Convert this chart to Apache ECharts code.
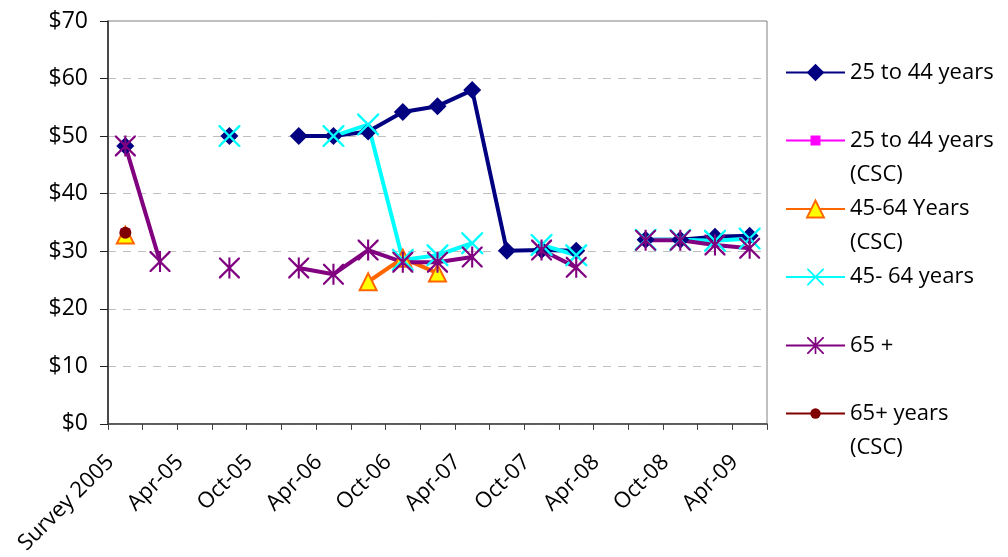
<!DOCTYPE html>
<html>
<head>
<meta charset="utf-8">
<script src="https://cdn.jsdelivr.net/npm/echarts@6/dist/echarts.min.js"></script>
<style>html,body{margin:0;padding:0;background:#fff}#c{width:1008px;height:557px}</style>
</head>
<body>
<div id="c"></div>
<script>
const categories = ['Survey 2005','Jan-05','Apr-05','Jul-05','Oct-05','Jan-06','Apr-06','Jul-06','Oct-06','Jan-07','Apr-07','Jul-07','Oct-07','Jan-08','Apr-08','Jul-08','Oct-08','Jan-09','Apr-09'];
const yTicks = [0, 10, 20, 30, 40, 50, 60, 70];
const age25to44 = [48.3, null, null, 50, null, 50, 50, 50.8, 54.2, 55.2, 58, 30.1, 30.2, 30.1, null, 32, 32, 32.5, 32.7];
const age25to44CSC = [33.1, null, null, null, null, null, null, null, null, null, null, null, null, null, null, null, null, null, null];
const age45to64CSC = [32.8, null, null, null, null, null, null, 24.7, 28.8, 26.2, null, null, null, null, null, null, null, null, null];
const age45to64 = [null, null, null, 50, null, null, 50, 52, 28.5, 29.3, 31.4, null, 31.1, 29.3, null, 32, 32, 31.8, 32.2];
const age65plus = [48.3, 28.2, null, 27.1, null, 27.1, 26.0, 30.2, 28.1, 28.1, 29.0, null, 30.2, 27.2, null, 31.9, 31.9, 31.1, 30.5];
const age65plusCSC = [33.2, null, null, null, null, null, null, null, null, null, null, null, null, null, null, null, null, null, null];

const FONT = 'Open Sans';
const X_PATH = 'path://M0,0L1.5,0L10,8.5L18.5,0L20,0L20,1.5L11.5,10L20,18.5L20,20L18.5,20L10,11.5L1.5,20L0,20L0,18.5L8.5,10L0,1.5Z';
const STAR_PATH = X_PATH + 'M9,0L11,0L11,20L9,20Z';

const seriesDefs = [
  {name: '25 to 44 years', data: age25to44, color: '#000080', lw: 4, symbol: 'diamond', size: 18, legendH: 22, two: false, center: 72.5},
  {name: '25 to 44 years (CSC)', data: age25to44CSC, color: '#FF00FF', lw: 2, symbol: 'rect', size: 10, legendH: 12.5, two: true, center: 140.5},
  {name: '45-64 Years (CSC)', data: age45to64CSC, color: '#FF6600', lw: 4, symbol: 'triangle', size: 17, legendH: 21, two: true, center: 209, fill: '#FFFF00'},
  {name: '45- 64 years', data: age45to64, color: '#00FFFF', lw: 4, symbol: X_PATH, size: 22, legendH: 21, two: false, center: 277},
  {name: '65 +', data: age65plus, color: '#800080', lw: 4, symbol: STAR_PATH, size: 21, legendH: 21, two: false, center: 345.5},
  {name: '65+ years (CSC)', data: age65plusCSC, color: '#800000', lw: 2, symbol: 'circle', size: 12, legendH: 13, two: true, center: 413.5}
];

const LH = 34;
const series = seriesDefs.map(d => ({
  name: d.name,
  type: 'line',
  data: d.data,
  connectNulls: false,
  symbol: d.symbol,
  symbolSize: d.size,
  showAllSymbol: true,
  lineStyle: {color: d.color, width: d.lw},
  itemStyle: d.fill ? {color: d.fill, borderColor: d.color, borderWidth: 2} : {color: d.color, borderWidth: 0},
  emphasis: {disabled: true}
}));

const legends = seriesDefs.map(d => ({
  data: [d.name],
  orient: 'vertical',
  left: 785,
  top: d.center - (d.two ? LH * 1.5 : LH / 2),
  padding: 0,
  itemWidth: 59,
  itemHeight: d.legendH,
  selectedMode: false,
  formatter: n => d.two ? '\n' + n.replace(' (CSC)', '\n(CSC)') : n,
  textStyle: {fontFamily: FONT, fontSize: 22, color: '#000', lineHeight: LH}
}));

const chart = echarts.init(document.getElementById('c'), null, {renderer: 'canvas'});
chart.setOption({
  animation: false,
  backgroundColor: '#fff',
  grid: {left: 108, right: 241, top: 21, bottom: 133, show: true, borderColor: '#808080', borderWidth: 1, backgroundColor: 'transparent'},
  legend: legends,
  xAxis: {
    type: 'category',
    data: categories,
    boundaryGap: true,
    axisLine: {lineStyle: {color: '#404040', width: 1.5}},
    axisTick: {show: true, interval: 0, length: 6, lineStyle: {color: '#404040'}},
    axisLabel: {interval: 1, rotate: 45, margin: 20, padding: [0, 21, 0, 0], fontFamily: FONT, fontSize: 22, color: '#000'},
    splitLine: {show: false}
  },
  yAxis: {
    type: 'value',
    min: yTicks[0],
    max: yTicks[yTicks.length - 1],
    interval: 10,
    axisLine: {show: true, lineStyle: {color: '#222', width: 1.5}},
    axisTick: {show: true, length: 8, lineStyle: {color: '#222'}},
    axisLabel: {margin: 20, fontFamily: FONT, fontSize: 23, color: '#000', formatter: v => '$' + v},
    splitLine: {show: true, lineStyle: {color: '#BFBFBF', type: [8, 7], width: 1}}
  },
  series: series
});
</script>
</body>
</html>
